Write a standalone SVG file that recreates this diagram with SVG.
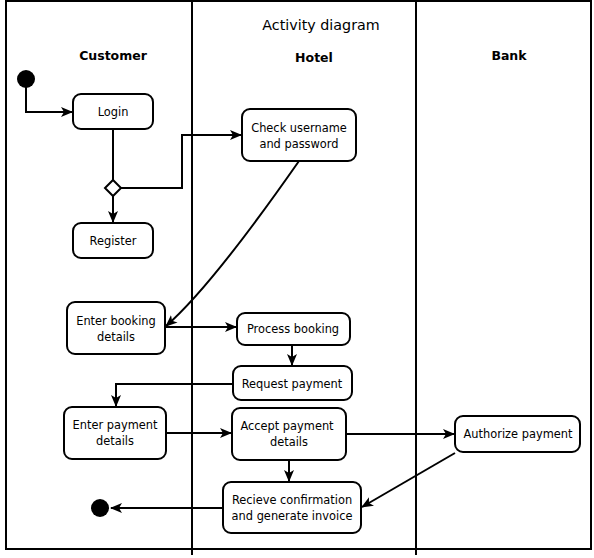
<svg xmlns="http://www.w3.org/2000/svg" width="594" height="558" viewBox="0 0 594 558">
<style>
.n{fill:#fff;stroke:#000;stroke-width:2}
.t{font-family:"DejaVu Sans",Verdana,sans-serif;font-size:11.4px;text-anchor:middle;fill:#000}
.h{font-family:"DejaVu Sans",Verdana,sans-serif;font-size:12.5px;font-weight:bold;text-anchor:middle;fill:#000}
.e{fill:none;stroke:#000;stroke-width:2}
.lane{fill:none;stroke:#000;stroke-width:2}
</style>
<defs>
<marker id="a" viewBox="0 0 12 10" refX="11" refY="5" markerWidth="12" markerHeight="10" markerUnits="userSpaceOnUse" orient="auto">
<path d="M0,0 L12,5 L0,10 L3,5 z" fill="#000"/>
</marker>
</defs>
<rect x="0" y="0" width="594" height="558" fill="#fff"/>
<g id="pool">
<rect class="lane" x="6" y="1" width="585" height="548"/>
<line class="lane" x1="192" y1="0" x2="192" y2="555"/>
<line class="lane" x1="416" y1="0" x2="416" y2="555"/>
<text x="321" y="30" style="font-family:'DejaVu Sans',Verdana,sans-serif;font-size:14.3px;text-anchor:middle">Activity diagram</text>
<text class="h" x="113" y="60">Customer</text>
<text class="h" x="314" y="62">Hotel</text>
<text class="h" x="509" y="60">Bank</text>
</g>
<g id="edges">
<path class="e" d="M26,86 V112 H72" marker-end="url(#a)"/>
<path class="e" d="M113,129 V180"/>
<path class="e" d="M121,188 H182 V135 H241" marker-end="url(#a)"/>
<path class="e" d="M113,196 V222" marker-end="url(#a)"/>
<path class="e" d="M299,161 Q211,287 166,326" marker-end="url(#a)"/>
<path class="e" d="M165,327 H236" marker-end="url(#a)"/>
<path class="e" d="M292,345 V365" marker-end="url(#a)"/>
<path class="e" d="M233,384 H116 V406" marker-end="url(#a)"/>
<path class="e" d="M166,433 H231" marker-end="url(#a)"/>
<path class="e" d="M346,434 H454" marker-end="url(#a)"/>
<path class="e" d="M289,460 V481" marker-end="url(#a)"/>
<path class="e" d="M455,453 L362,507" marker-end="url(#a)"/>
<path class="e" d="M223,508 H111" marker-end="url(#a)"/>
</g>
<g id="start"><circle cx="26" cy="79" r="9" fill="#000"/></g>
<g id="login"><rect class="n" x="73" y="94" width="80" height="35" rx="8"/><text class="t" x="113" y="116">Login</text></g>
<g id="decision"><path class="n" d="M113,180 L121,188 L113,196 L105,188 z"/></g>
<g id="register"><rect class="n" x="73" y="223" width="80" height="35" rx="8"/><text class="t" x="113" y="245">Register</text></g>
<g id="check"><rect class="n" x="242" y="109" width="114" height="52" rx="8"/><text class="t" x="299" y="132">Check username</text><text class="t" x="299" y="148">and password</text></g>
<g id="enterBooking"><rect class="n" x="67" y="302" width="98" height="52" rx="8"/><text class="t" x="116" y="325">Enter booking</text><text class="t" x="116" y="341">details</text></g>
<g id="processBooking"><rect class="n" x="237" y="313" width="113" height="32" rx="8"/><text class="t" x="293" y="333">Process booking</text></g>
<g id="requestPayment"><rect class="n" x="233" y="366" width="119" height="34" rx="8"/><text class="t" x="292" y="388">Request payment</text></g>
<g id="enterPayment"><rect class="n" x="64" y="407" width="102" height="52" rx="8"/><text class="t" x="115" y="429">Enter payment</text><text class="t" x="115" y="445">details</text></g>
<g id="acceptPayment"><rect class="n" x="232" y="408" width="114" height="52" rx="8"/><text class="t" x="287" y="430">Accept payment</text><text class="t" x="289" y="446">details</text></g>
<g id="authorize"><rect class="n" x="455" y="416" width="125" height="36" rx="8"/><text class="t" x="518" y="438">Authorize payment</text></g>
<g id="receive"><rect class="n" x="223" y="482" width="138" height="51" rx="8"/><text class="t" x="292" y="504">Recieve confirmation</text><text class="t" x="292" y="520">and generate invoice</text></g>
<g id="end"><circle cx="100" cy="508" r="9" fill="#000"/></g>
</svg>
